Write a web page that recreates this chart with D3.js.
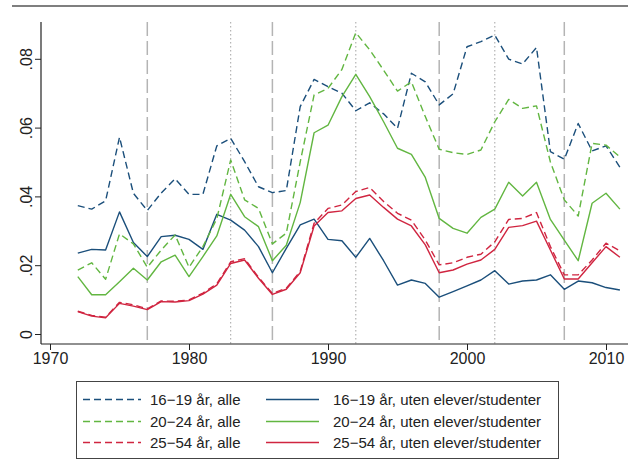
<!DOCTYPE html>
<html>
<head>
<meta charset="utf-8">
<script src="https://cdn.jsdelivr.net/npm/d3@7"></script>
<style>
  body { margin: 0; background: #fff; }
  svg { display: block; font-family: "Liberation Sans", Arial, sans-serif; }
</style>
</head>
<body>
<svg id="chart"></svg>
<script>
// Data
const years = d3.range(1972, 2012);

const alle1619 = [0.0373, 0.0363, 0.0387, 0.0572, 0.0409, 0.0359, 0.0410, 0.0451, 0.0406, 0.0406,
  0.0547, 0.0569, 0.0501, 0.0428, 0.0411, 0.0417, 0.0661, 0.0740, 0.0719, 0.0700,
  0.0649, 0.0672, 0.0640, 0.0598, 0.0758, 0.0733, 0.0666, 0.0698, 0.0835, 0.0850,
  0.0869, 0.0799, 0.0785, 0.0833, 0.0530, 0.0508, 0.0612, 0.0532, 0.0547, 0.0485];
const uten1619 = [0.0235, 0.0246, 0.0244, 0.0355, 0.0266, 0.0225, 0.0283, 0.0287, 0.0275, 0.0246,
  0.0348, 0.0331, 0.0302, 0.0254, 0.0178, 0.0249, 0.0317, 0.0334, 0.0275, 0.0271,
  0.0223, 0.0278, 0.0213, 0.0142, 0.0157, 0.0147, 0.0107, 0.0123, 0.0140, 0.0157,
  0.0184, 0.0145, 0.0154, 0.0157, 0.0172, 0.0130, 0.0154, 0.0149, 0.0135, 0.0128];
const alle2024 = [0.0186, 0.0207, 0.0159, 0.0291, 0.0262, 0.0194, 0.0244, 0.0288, 0.0194, 0.0254,
  0.0335, 0.0506, 0.0390, 0.0365, 0.0262, 0.0293, 0.0500, 0.0695, 0.0714, 0.0769,
  0.0876, 0.0826, 0.0767, 0.0706, 0.0733, 0.0632, 0.0537, 0.0527, 0.0522, 0.0535,
  0.0617, 0.0682, 0.0656, 0.0663, 0.0500, 0.0390, 0.0343, 0.0554, 0.0549, 0.0515];
const uten2024 = [0.0167, 0.0114, 0.0114, 0.0152, 0.0191, 0.0157, 0.0210, 0.0229, 0.0167, 0.0225,
  0.0285, 0.0406, 0.0341, 0.0312, 0.0213, 0.0258, 0.0382, 0.0585, 0.0607, 0.0690,
  0.0755, 0.0690, 0.0617, 0.0540, 0.0522, 0.0455, 0.0336, 0.0307, 0.0293, 0.0339,
  0.0363, 0.0441, 0.0401, 0.0441, 0.0333, 0.0273, 0.0213, 0.0380, 0.0409, 0.0363];
const alle2554 = [0.0066, 0.0054, 0.0049, 0.0092, 0.0085, 0.0073, 0.0096, 0.0095, 0.0099, 0.0119,
  0.0146, 0.0210, 0.0219, 0.0165, 0.0118, 0.0133, 0.0182, 0.0322, 0.0365, 0.0375,
  0.0414, 0.0426, 0.0385, 0.0351, 0.0331, 0.0273, 0.0201, 0.0207, 0.0223, 0.0232,
  0.0268, 0.0333, 0.0336, 0.0353, 0.0254, 0.0172, 0.0172, 0.0215, 0.0264, 0.0242];
const uten2554 = [0.0065, 0.0052, 0.0047, 0.0089, 0.0081, 0.0071, 0.0094, 0.0093, 0.0097, 0.0116,
  0.0142, 0.0205, 0.0215, 0.0162, 0.0115, 0.0130, 0.0178, 0.0314, 0.0353, 0.0358,
  0.0394, 0.0404, 0.0368, 0.0334, 0.0314, 0.0259, 0.0178, 0.0186, 0.0203, 0.0215,
  0.0246, 0.0310, 0.0315, 0.0328, 0.0244, 0.0160, 0.0160, 0.0207, 0.0254, 0.0223];

const longDashYears = [1977, 1986, 1998, 2007];
const dottedYears = [1983, 1992, 2002];

const xTicks = [1970, 1980, 1990, 2000, 2010];
const yTicks = [0, 0.02, 0.04, 0.06, 0.08];
const yTickLabels = ["0", ".02", ".04", ".06", ".08"];

const blue = "#1b4f7b", green = "#62b641", red = "#d02540";

const series = [
  { label: "16−19 år, alle", values: alle1619, color: blue, dashed: true },
  { label: "16−19 år, uten elever/studenter", values: uten1619, color: blue, dashed: false },
  { label: "20−24 år, alle", values: alle2024, color: green, dashed: true },
  { label: "20−24 år, uten elever/studenter", values: uten2024, color: green, dashed: false },
  { label: "25−54 år, alle", values: alle2554, color: red, dashed: true },
  { label: "25−54 år, uten elever/studenter", values: uten2554, color: red, dashed: false }
];

// Layout
const width = 628, height = 465;
const plotTop = 22, plotBottom = 344, plotLeft = 41, plotRight = 628;

const svg = d3.select("#chart")
    .attr("width", width)
    .attr("height", height);

const x = d3.scaleLinear().domain([1970, 2010]).range([50, 606]);
const y = d3.scaleLinear().domain([0, 0.08]).range([334, 58.8]);

// top border line
svg.append("line")
    .attr("x1", 12).attr("x2", 628)
    .attr("y1", 6).attr("y2", 6)
    .attr("stroke", "#555").attr("stroke-width", 1.5);

// reference lines
svg.selectAll(".ref-long")
    .data(longDashYears)
    .enter().append("line")
    .attr("x1", d => x(d)).attr("x2", d => x(d))
    .attr("y1", plotTop).attr("y2", plotBottom)
    .attr("stroke", "#b4b4b4")
    .attr("stroke-width", 1.5)
    .attr("stroke-dasharray", "14,5");

svg.selectAll(".ref-dot")
    .data(dottedYears)
    .enter().append("line")
    .attr("x1", d => x(d)).attr("x2", d => x(d))
    .attr("y1", plotTop).attr("y2", plotBottom)
    .attr("stroke", "#8c8c8c")
    .attr("stroke-width", 0.8)
    .attr("stroke-dasharray", "1.5,2.5");

// series lines
const line = d3.line()
    .x((d, i) => x(years[i]))
    .y(d => y(d));

svg.selectAll(".series")
    .data(series)
    .enter().append("path")
    .attr("fill", "none")
    .attr("stroke", d => d.color)
    .attr("stroke-width", 1.4)
    .attr("stroke-linejoin", "round")
    .attr("stroke-dasharray", d => d.dashed ? "7,4" : null)
    .attr("d", d => line(d.values));

// x axis
const xAxis = svg.append("g")
    .attr("transform", `translate(0,${plotBottom})`)
    .call(d3.axisBottom(x).tickValues(xTicks).tickFormat(d3.format("d")).tickSize(6).tickPadding(3));
xAxis.select(".domain").remove();
xAxis.append("line")
    .attr("x1", plotLeft).attr("x2", plotRight)
    .attr("stroke", "#222").attr("stroke-width", 1.2);
xAxis.selectAll(".tick line").attr("stroke", "#222");
xAxis.selectAll(".tick text")
    .attr("font-size", 16)
    .attr("fill", "#222")
    .style("font-family", "'Liberation Sans', Arial, sans-serif");

// y axis
const yAxis = svg.append("g")
    .attr("transform", `translate(${plotLeft},0)`)
    .call(d3.axisLeft(y).tickValues(yTicks).tickFormat((d, i) => yTickLabels[i]).tickSize(6));
yAxis.select(".domain").remove();
yAxis.append("line")
    .attr("y1", plotTop).attr("y2", plotBottom)
    .attr("stroke", "#222").attr("stroke-width", 1.2);
yAxis.selectAll(".tick line").attr("stroke", "#222");
yAxis.selectAll(".tick text")
    .attr("font-size", 16)
    .attr("fill", "#222")
    .attr("x", null).attr("dy", null)
    .attr("text-anchor", "middle")
    .attr("transform", "translate(-15,0) rotate(-90)")
    .attr("dy", "0.35em")
    .style("font-family", "'Liberation Sans', Arial, sans-serif");

// legend
const legend = svg.append("g");
legend.append("rect")
    .attr("x", 76.5).attr("y", 381.5)
    .attr("width", 482).attr("height", 77)
    .attr("fill", "#fff")
    .attr("stroke", "#444").attr("stroke-width", 1);

const rowY = [399.5, 421.5, 442.5];
const colLine = [[83, 141], [266, 319]];
const colText = [150, 333];

const items = legend.selectAll(".item")
    .data(series)
    .enter().append("g")
    .attr("transform", (d, i) => `translate(0,${rowY[Math.floor(i / 2)]})`);

items.append("line")
    .attr("x1", (d, i) => colLine[i % 2][0])
    .attr("x2", (d, i) => colLine[i % 2][1])
    .attr("stroke", d => d.color)
    .attr("stroke-width", 1.4)
    .attr("stroke-dasharray", d => d.dashed ? "7,4" : null);

items.append("text")
    .attr("x", (d, i) => colText[i % 2])
    .attr("dy", "0.35em")
    .attr("font-size", 15)
    .attr("fill", "#222")
    .text(d => d.label);
</script>
</body>
</html>
